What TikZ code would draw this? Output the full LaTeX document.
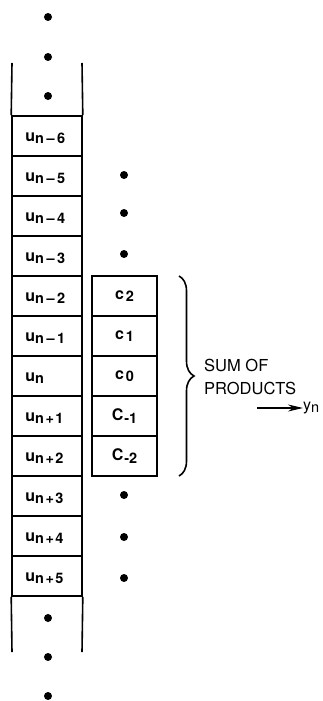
\documentclass[tikz,border=0pt]{standalone}
\usepackage{fontspec}
\setmainfont{TeX Gyre Heros}
\usetikzlibrary{decorations.pathreplacing,arrows.meta}

% lowered index set after a symbol
\newcommand\lowidx[1]{\raisebox{-2.5pt}{\fontsize{14.5}{14.5}\selectfont #1}}

\begin{document}
\begin{tikzpicture}[x=1pt,y=-1pt,
  cell/.style={draw, line width=1.6pt, minimum width=70pt, minimum height=40pt, inner sep=0pt},
  coef/.style={draw, line width=1.6pt, minimum width=65pt, minimum height=40pt, inner sep=0pt,
               font=\fontsize{16}{16}\selectfont\bfseries},
  lbl/.style={anchor=base west, inner sep=0pt, font=\fontsize{16}{16}\selectfont\bfseries},
  dot/.style={circle, fill, inner sep=0pt, minimum size=8pt},
  rail/.style={line width=1.6pt},
]
\useasboundingbox (0,0) rectangle (323,701);

% input sequence column
\foreach \s [count=\i from 0] in {{n\kern2.5pt–\kern2.5pt6},{n\kern2.5pt–\kern2.5pt5},{n\kern2.5pt–\kern2.5pt4},{n\kern2.5pt–\kern2.5pt3},{n\kern2.5pt–\kern2.5pt2},{n\kern2.5pt–\kern2.5pt1},{n},{n\kern1.5pt+\kern1.5pt1},{n\kern1.5pt+\kern1.5pt2},{n\kern1.5pt+\kern1.5pt3},{n\kern1.5pt+\kern1.5pt4},{n\kern1.5pt+\kern1.5pt5}}{
  \node[cell] (u\i) at (47,{136+40*\i}) {};
  \node[lbl, xshift=14pt, yshift=-5pt] (l\i) at (u\i.west) {u\lowidx{\s}};
}

% open ends of the column
\coordinate (railTL) at (12,63);
\coordinate (railTR) at (82,63);
\coordinate (railBL) at (12,652);
\coordinate (railBR) at (82,652);
\draw[rail] (railTL) -- (u0.north west);
\draw[rail] (railTR) -- (u0.north east);
\draw[rail] (u11.south west) -- (railBL);
\draw[rail] (u11.south east) -- (railBR);

% coefficient column
\node[coef] (c2) at (124.5,296) {c\kern2pt\lowidx{2}};
\node[coef] (c1) at (124.5,336) {c\kern2pt\lowidx{1}};
\node[coef] (c0) at (124.5,376) {c\kern2pt\lowidx{0}};
\node[coef] (cm1) at (124.5,416) {C\kern1pt\lowidx{-1}};
\node[coef] (cm2) at (124.5,456) {C\kern1pt\lowidx{-2}};

% continuation dots
\node[dot] (d1) at (48,17) {};
\node[dot] (d2) at (48,57) {};
\node[dot] (d3) at (48,96) {};
\node[dot] (d4) at (124,175) {};
\node[dot] (d5) at (124,213) {};
\node[dot] (d6) at (124,254) {};
\node[dot] (d7) at (124,495) {};
\node[dot] (d8) at (124,537) {};
\node[dot] (d9) at (124,578) {};
\node[dot] (d10) at (48,618) {};
\node[dot] (d11) at (48,657) {};
\node[dot] (d12) at (48,696) {};

% brace over the products
\coordinate (braceTop) at (179,276);
\coordinate (braceBot) at (179,476);
\draw[line width=1.6pt, decorate, decoration={brace, amplitude=15pt}] (braceTop) -- (braceBot);

\node[anchor=west, align=left, inner sep=0pt, font=\fontsize{16.5}{23}\selectfont] (sum) at (204,376.5) {SUM OF\\PRODUCTS};

\coordinate (arrowStart) at (257,408);
\node[anchor=west, inner sep=0pt, font=\fontsize{16}{16}\selectfont] (yn) at (303,408) {y\lowidx{n}};
\draw[line width=1.6pt, -{Stealth[length=15pt,width=7pt]}] (arrowStart) -- (yn.west);
\end{tikzpicture}
\end{document}
